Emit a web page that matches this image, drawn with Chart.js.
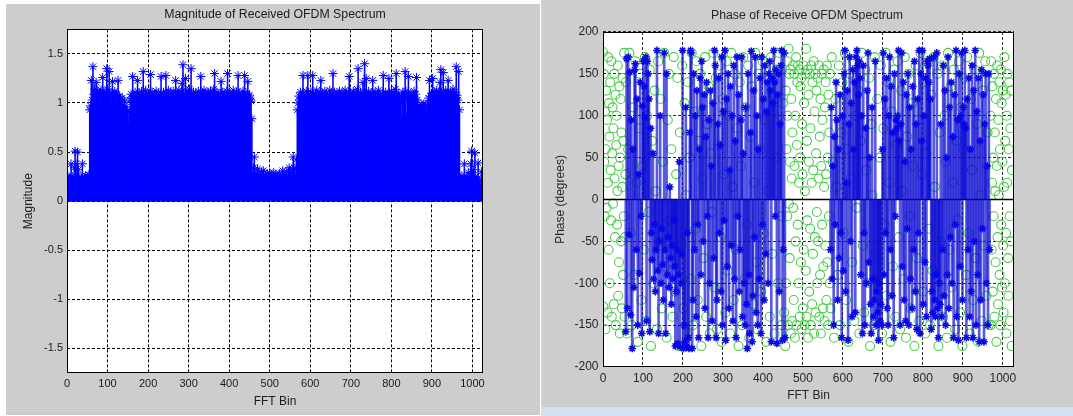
<!DOCTYPE html>
<html>
<head>
<meta charset="utf-8">
<title>Received OFDM Spectrum</title>
<script src="https://cdn.jsdelivr.net/npm/chart.js@4.4.1/dist/chart.umd.min.js"></script>
<style>
  html, body { margin: 0; padding: 0; width: 1073px; height: 416px; overflow: hidden; background: #ffffff; }
  .panel { position: absolute; background: #cdcdcd; }
  #leftPanel { left: 6px; top: 4px; width: 534px; height: 411px; }
  #rightPanel { left: 542px; top: 0; width: 531px; height: 407px; }
  #rightEdge { position: absolute; left: 541px; top: 0; width: 1px; height: 416px; background: #c6d8ea; }
  #rightFoot { position: absolute; left: 541px; top: 407px; width: 532px; height: 9px; background: #d4e2ef; }
  canvas { position: absolute; top: 0; }
  #magChart { left: 0; }
  #phaseChart { left: 541px; filter: blur(0.4px); }
</style>
</head>
<body>
<div id="leftPanel" class="panel"></div>
<div id="rightPanel" class="panel"></div>
<div id="rightEdge"></div>
<div id="rightFoot"></div>
<canvas id="magChart" width="550" height="416"></canvas>
<canvas id="phaseChart" width="532" height="416"></canvas>
<script>
// ---------------- axis ticks ----------------
const binTicks = [0, 100, 200, 300, 400, 500, 600, 700, 800, 900, 1000];
const magTicks = [-1.5, -1, -0.5, 0, 0.5, 1, 1.5];
const phaseTicks = [-200, -150, -100, -50, 0, 50, 100, 150, 200];

// ---------------- magnitude |X[k]| (every 2nd FFT bin) ----------------
const magStep = 2;
const magLowEdgeStart = 0;      // bins 0..56
const magLowEdge = [0.12,0.26,0.18,0.23,0.15,0.38,0.21,0.25,0.17,0.34,0.51,0.38,0.24,0.50,0.32,0.20,0.25,0.18,0.23,0.38,0.22,0.19,0.24,0.26,0.21,0.25,0.23,0.27,0.93];
const magLowerBandStart = 58;   // bins 58..454
const magLowerBand = [
  0.97,1.23,1.03,1.37,1.09,1.14,1.00,1.21,1.07,1.12,
  1.04,1.10,0.98,1.13,1.06,1.26,1.08,1.02,1.11,1.05,
  1.35,1.14,1.07,1.32,1.03,1.10,0.99,1.22,1.08,1.04,
  1.12,0.97,1.09,1.06,1.23,1.01,1.07,1.04,0.91,1.05,
  0.98,0.93,1.02,0.89,0.96,0.84,0.92,0.77,0.90,1.03,
  1.09,1.05,1.27,1.07,1.01,1.11,1.04,1.08,1.23,1.00,
  1.10,1.06,1.03,1.12,0.99,1.32,1.09,1.04,1.13,1.07,
  1.01,1.10,1.05,1.08,1.29,1.02,1.11,1.06,0.99,1.09,
  1.04,1.12,1.01,1.07,1.10,1.03,1.08,1.27,1.05,1.00,
  1.11,1.07,1.03,1.28,1.09,1.04,1.13,1.06,1.01,1.10,
  0.97,1.08,1.12,1.04,1.07,1.23,1.02,1.10,1.05,1.13,
  1.08,1.01,1.11,1.20,1.39,1.09,1.04,1.25,1.07,1.12,
  1.03,1.09,1.14,1.06,1.35,1.08,1.02,1.11,1.05,0.99,
  1.10,1.07,1.03,1.12,1.08,1.01,1.27,1.06,1.10,1.04,
  1.13,1.07,1.00,1.09,1.05,1.11,1.03,1.08,1.12,1.06,
  1.01,1.10,1.14,1.30,1.07,1.03,1.11,1.05,1.09,1.02,
  1.08,1.22,1.06,1.11,1.04,1.09,1.00,1.07,1.12,1.30,
  1.08,1.03,1.10,1.06,1.01,1.09,1.13,1.05,1.08,1.02,
  1.11,1.07,1.28,1.04,1.10,1.06,1.01,1.08,1.12,1.05,
  1.28,1.07,1.03,1.10,1.22,1.06,1.08,1.04,1.02
];
const magGuardStart = 456;      // bins 456..568
const magGuard = [
  0.84,0.26,0.34,0.45,0.23,0.29,0.20,0.33,0.25,0.18,
  0.27,0.22,0.30,0.19,0.31,0.24,0.17,0.26,0.21,0.28,
  0.18,0.24,0.29,0.22,0.26,0.20,0.25,0.29,0.23,0.27,
  0.21,0.26,0.19,0.25,0.28,0.22,0.26,0.20,0.31,0.24,
  0.18,0.27,0.23,0.30,0.20,0.25,0.34,0.22,0.29,0.19,
  0.32,0.45,0.26,0.34,0.23,0.42,0.93
];
const magUpperBandStart = 570;  // bins 570..968
const magUpperBand = [
  1.00,1.07,1.03,1.11,1.05,1.09,1.28,1.04,1.08,1.01,
  1.12,1.06,1.28,1.09,1.03,1.07,1.11,1.04,1.28,1.08,
  1.02,1.10,1.06,1.13,0.99,1.08,1.04,1.11,1.23,1.05,
  1.09,1.02,1.07,1.12,1.04,1.10,1.06,1.01,1.08,1.13,
  1.05,1.09,1.03,1.30,1.07,1.11,1.04,1.08,1.00,1.10,
  1.06,1.12,1.03,1.07,1.10,1.04,1.09,1.01,1.13,1.06,
  1.08,1.03,1.11,1.27,1.05,1.09,1.02,1.07,1.12,1.04,
  1.10,1.06,1.00,1.14,1.35,1.08,1.03,1.11,1.05,1.09,
  1.21,1.07,1.40,1.10,1.25,1.04,1.08,1.12,1.01,1.07,
  1.10,1.05,1.23,1.09,1.03,1.11,1.06,0.99,1.08,1.13,
  1.04,1.09,1.05,1.02,1.10,1.28,1.07,1.03,1.11,1.06,
  1.08,1.01,1.25,1.09,1.04,1.12,1.07,1.00,1.10,1.05,
  1.14,1.30,1.08,1.03,1.09,1.06,1.01,0.83,1.07,1.11,
  1.04,1.09,1.32,1.12,0.86,1.05,1.27,1.08,1.03,1.10,
  1.06,1.00,1.08,1.12,1.04,1.09,1.26,1.03,0.94,0.98,
  0.91,0.96,0.92,0.98,0.93,0.99,0.92,0.97,0.86,0.94,
  1.00,1.05,1.23,1.07,1.02,1.10,1.25,1.06,1.11,1.04,
  1.09,1.13,1.05,1.08,1.12,1.21,1.34,1.10,1.07,1.31,
  1.09,1.04,1.13,1.06,1.10,1.23,1.07,1.02,1.11,1.05,
  1.09,1.14,1.07,1.11,1.04,1.37,1.08,1.03,1.32,0.93
];
const magHighEdgeStart = 970;   // bins 970..1022
const magHighEdge = [
  0.24,0.19,0.26,0.22,0.17,0.38,0.23,0.20,0.25,0.18,
  0.29,0.22,0.26,0.38,0.51,0.23,0.32,0.20,0.49,0.25,
  0.18,0.23,0.39,0.16,0.21,0.12,0.30
];

// ---------------- phase of the data carriers, degrees (every 2nd bin) ----------------
const phaseStep = 2;
const phaseLowerBandStart = 57; // bins 57..455
const phaseLowerBand = [
  -158,168,-130,170,-42,152,-138,95,-178,60,
  -105,155,162,-60,120,-150,30,-88,140,-20,
  -160,112,165,135,98,170,-145,165,150,120,
  -158,85,-40,-72,55,-95,-30,-110,-60,178,
  -85,-160,-50,100,-100,-35,-78,-120,175,-60,
  -160,150,-90,-45,-105,15,-70,-125,-55,-95,
  -25,-80,-175,-110,-60,-172,-90,45,-176,-100,
  -65,178,-178,-150,-170,110,-176,-40,-165,-178,
  80,178,175,-178,-120,150,-60,100,-140,130,
  -30,-165,60,145,-90,165,110,-50,125,-130,
  75,140,-20,-165,95,-100,130,40,-145,115,
  -70,178,160,-165,-120,90,145,-40,65,-110,
  170,-150,105,-25,178,-168,120,-80,150,-130,
  35,135,-55,100,-145,160,-95,70,-165,170,
  -20,125,-110,-60,95,170,-140,55,-100,-150,
  110,-125,-178,150,-90,-160,80,177,-170,-115,
  130,-45,170,-135,100,-150,60,-95,145,-160,
  170,-30,120,-120,160,-65,105,140,-100,150,
  165,130,-170,145,115,178,140,-20,155,-172,
  125,150,-110,90,160,178,-168,-60,175,-165
];
const phaseUpperBandStart = 569; // bins 569..967
const phaseUpperBand = [
  -60,110,-95,40,-150,75,-30,140,95,-120,
  60,-70,125,-40,-165,100,-85,150,178,-110,
  20,130,-168,90,170,-50,115,-140,155,60,
  140,-135,170,178,160,125,165,145,-90,100,
  -160,160,-40,-150,85,-100,130,175,-75,50,
  -125,-160,110,-95,-140,-120,165,-150,-110,-135,
  -168,-100,-145,-125,-150,60,175,-90,120,-40,
  145,-130,-150,100,170,-60,135,-115,80,-165,
  150,-20,95,85,100,178,70,-150,90,175,
  -80,140,-120,45,-145,125,-35,150,-150,110,
  -95,60,-130,135,-60,165,-110,90,-155,120,
  -40,178,-160,150,70,178,-125,100,-75,145,
  -140,165,160,140,168,120,-155,-110,-135,170,
  -120,-140,-90,175,-130,-165,-100,-125,90,-140,
  -60,160,-115,130,-150,50,-90,170,-130,110,
  -45,140,-100,75,-165,125,-30,178,-140,95,
  -168,150,-80,100,175,-120,110,90,178,85,
  -165,120,-60,145,-140,60,-110,160,-165,130,
  -50,178,-150,105,-90,145,-170,70,-120,155,
  -35,125,-170,90,150,-100,40,-150,150,-60
];

// ---------------- phase of every bin (green circles), degrees ----------------
const greenLowEdgeStart = 0, greenLowEdgeStep = 1;      // bins 0..56
const greenLowEdge = [
  176,-128,150,45,-20,105,-155,60,130,-10,
  95,-135,20,170,-60,115,75,-100,140,35,
  -25,165,-140,55,110,-5,85,-125,150,25,
  -45,125,-150,65,100,-30,10,160,-115,40,
  -75,135,-160,50,120,-50,80,-130,15,145,
  -90,70,-20,175,-140,-45,30
];
const greenLowerBandStart = 57, greenLowerBandStep = 3; // bins 57..453
const greenLowerBand = [
  140,-160,60,175,-40,-150,110,-90,165,20,
  -170,85,150,-120,40,-60,170,-145,100,-15,
  155,-175,70,-100,130,10,-155,165,-50,120,
  -130,45,175,-80,-165,95,150,-25,60,-140,
  170,-110,30,145,-175,80,-55,160,-130,115,
  5,-160,140,50,-95,175,-150,105,-35,165,
  -120,70,150,-175,25,-70,170,-140,90,135,
  -160,55,-15,175,-105,145,-155,65,160,-45,
  -170,120,30,-135,165,-85,100,-160,175,15,
  -120,150,-60,85,-175,140,40,-150,170,-95,
  110,-30,160,-165,75,135,-125,20,175,-75,
  -155,150,60,-110,165,-40,95,-170,145,10,
  -140,170,-65,125,-160,50,155,-100,175,-20,
  -150,115,-135
];
const greenGuardStart = 456, greenGuardStep = 1;        // bins 456..568
const greenGuard = [
  -175,130,-100,60,165,-20,100,-150,180,-5,
  150,-70,45,155,-160,120,25,-145,80,160,
  -10,-120,150,40,-165,100,-50,170,-150,65,
  140,-30,160,-100,20,155,-140,50,135,-75,
  145,-155,90,30,-130,160,-60,115,-150,10,
  150,-85,180,-140,70,-25,155,-165,125,45,
  -110,150,-35,85,-150,160,20,-125,140,-65,
  35,165,-160,105,-45,150,-135,55,130,-15,
  -100,145,-50,25,160,-140,75,-90,120,-160,
  40,150,-30,95,-130,-80,155,15,-145,110,
  -55,140,30,-120,160,-75,50,-150,125,-20,
  80,-100,150
];
const greenUpperBandStart = 569, greenUpperBandStep = 3; // bins 569..965
const greenUpperBand = [
  -130,170,45,-165,120,15,-90,160,-150,80,
  140,-40,175,-120,60,-170,150,25,-75,165,
  -145,100,-10,130,-160,70,175,-55,-135,155,
  35,-100,145,-175,90,5,-150,170,-65,120,
  -125,50,160,-160,85,-30,175,-115,140,20,
  -170,105,-80,155,-140,65,165,-45,-155,130,
  10,-95,170,-165,75,150,-20,-130,115,40,
  -175,160,-70,95,-145,175,30,-110,140,-160,
  55,165,-35,-150,125,-85,170,15,-125,150,
  -175,80,-50,160,-140,100,45,-165,175,-60,
  135,-105,20,155,-155,70,-25,165,-135,110,
  -175,60,145,-90,170,-40,-160,120,35,-120,
  155,-70,90,-170,175,5,-145,130,-55,165,
  -115,80,-150
];
const greenHighEdgeStart = 969, greenHighEdgeStep = 1;  // bins 969..1023
const greenHighEdge = [
  100,-150,165,-60,20,135,-110,50,-20,150,
  -140,80,10,-75,120,-170,40,160,-45,-125,
  95,5,140,-90,60,-150,155,-30,115,-105,
  45,130,-55,-135,15,170,-100,70,125,-40,
  -160,100,20,150,-70,-115,60,140,-20,-145,
  85,-50,130,-175,35
];

// ---------------- helpers ----------------
const FONT = '"Liberation Sans", Arial, Helvetica, sans-serif';

function toPoints(start, step, values) {
  return values.map((v, i) => ({ x: start + i * step, y: v }));
}

const magPoints = [].concat(
  toPoints(magLowEdgeStart, magStep, magLowEdge),
  toPoints(magLowerBandStart, magStep, magLowerBand),
  toPoints(magGuardStart, magStep, magGuard),
  toPoints(magUpperBandStart, magStep, magUpperBand),
  toPoints(magHighEdgeStart, magStep, magHighEdge)
);
const phasePoints = [].concat(
  toPoints(phaseLowerBandStart, phaseStep, phaseLowerBand),
  toPoints(phaseUpperBandStart, phaseStep, phaseUpperBand)
);
const greenPoints = [].concat(
  toPoints(greenLowEdgeStart, greenLowEdgeStep, greenLowEdge),
  toPoints(greenLowerBandStart, greenLowerBandStep, greenLowerBand),
  toPoints(greenGuardStart, greenGuardStep, greenGuard),
  toPoints(greenUpperBandStart, greenUpperBandStep, greenUpperBand),
  toPoints(greenHighEdgeStart, greenHighEdgeStep, greenHighEdge)
);

// white axes background and the closed axes box
const axesBox = {
  id: 'axesBox',
  beforeDraw(chart) {
    const { ctx, chartArea: a } = chart;
    ctx.save();
    ctx.fillStyle = '#ffffff';
    ctx.fillRect(a.left, a.top, a.right - a.left, a.bottom - a.top);
    ctx.restore();
  },
  afterDraw(chart) {
    const { ctx, chartArea: a } = chart;
    ctx.save();
    ctx.strokeStyle = '#000000';
    ctx.lineWidth = 1;
    ctx.strokeRect(Math.round(a.left) + 0.5, Math.round(a.top) + 0.5,
                   Math.round(a.right - a.left) - 1, Math.round(a.bottom - a.top) - 1);
    ctx.restore();
  }
};

function axesOptions(o) {
  return {
    responsive: false,
    animation: false,
    events: [],
    layout: { padding: 0 },
    plugins: {
      legend: { display: false },
      tooltip: { enabled: false },
      title: {
        display: true, text: o.title, color: o.textColor,
        font: { family: FONT, size: 12.3, weight: 'normal', lineHeight: 1.2 },
        padding: { top: o.titlePad, bottom: o.titlePad2 }
      }
    },
    scales: {
      x: {
        type: 'linear', position: 'bottom', min: 0, max: o.xMax,
        offset: false,
        afterBuildTicks: s => { s.ticks = binTicks.map(v => ({ value: v })); },
        afterFit: s => { s.height = o.xAxisHeight; },
        grid: { display: true, color: o.gridColor, lineWidth: 1, drawTicks: false, offset: false },
        border: { display: false, dash: [3, 2] },
        ticks: { color: o.textColor, font: { family: FONT, size: o.tickSize }, padding: 4,
                 maxRotation: 0, autoSkip: false, callback: v => String(v) },
        title: { display: true, text: 'FFT Bin', color: o.textColor,
                 font: { family: FONT, size: 12, lineHeight: 1.2 },
                 padding: { top: 0, bottom: o.xTitlePad } }
      },
      y: {
        type: 'linear', position: 'left', min: o.yMin, max: o.yMax,
        afterBuildTicks: s => { s.ticks = o.yTicks.map(v => ({ value: v })); },
        afterFit: s => { s.width = o.yAxisWidth; },
        grid: { display: true, color: o.gridColor, lineWidth: 1, drawTicks: false },
        border: { display: false, dash: [3, 2] },
        ticks: { color: o.textColor, font: { family: FONT, size: o.tickSize }, padding: o.yTickPad,
                 autoSkip: false, callback: v => String(v) },
        title: { display: true, text: o.yTitle, color: o.textColor,
                 font: { family: FONT, size: 12, lineHeight: 1.2 },
                 padding: { top: o.yTitlePad, bottom: 0 } }
      },
      yRight: {
        type: 'linear', position: 'right', min: o.yMin, max: o.yMax, display: true,
        afterFit: s => { s.width = o.rightWidth; },
        grid: { display: false, drawTicks: false },
        border: { display: false },
        ticks: { display: false }
      }
    }
  };
}

// ---------------- magnitude stem plot ----------------
new Chart(document.getElementById('magChart'), {
  type: 'bar',
  data: {
    datasets: [
      { type: 'line', data: [{ x: 0, y: 0 }, { x: 1026, y: 0 }], borderColor: '#000000',
        borderWidth: 1, pointRadius: 0, order: 4 },
      { type: 'bar', data: magPoints, backgroundColor: '#0000ff', borderWidth: 0,
        barThickness: 0.9, grouped: false, order: 3 },
      { type: 'scatter', data: magPoints, pointStyle: 'star', pointRadius: 4.5,
        borderColor: '#0000ff', backgroundColor: '#0000ff', pointBorderWidth: 1, order: 1 }
    ]
  },
  options: axesOptions({
    title: 'Magnitude of Received OFDM Spectrum', textColor: '#1a1a1a', gridColor: '#000000',
    titlePad: 7, titlePad2: 7.6, xMax: 1026, xAxisHeight: 43, xTitlePad: 7,
    yMin: -1.75, yMax: 1.75, yTicks: magTicks, yAxisWidth: 67, yTickPad: 4,
    yTitle: 'Magnitude', yTitlePad: 21, rightWidth: 67, tickSize: 11
  }),
  plugins: [axesBox]
});

// ---------------- phase stem plot ----------------
new Chart(document.getElementById('phaseChart'), {
  type: 'bar',
  data: {
    datasets: [
      { type: 'scatter', data: greenPoints, pointStyle: 'circle', pointRadius: 4.5,
        borderColor: 'rgb(72,205,72)', backgroundColor: 'rgba(0,0,0,0)', pointBorderWidth: 1.1, order: 6 },
      { type: 'line', data: [{ x: 0, y: 0 }, { x: 1028, y: 0 }], borderColor: '#000000',
        borderWidth: 1.3, pointRadius: 0, order: 5 },
      { type: 'bar', data: phasePoints, backgroundColor: 'rgba(12,12,210,0.68)', borderWidth: 0,
        barThickness: 2, grouped: false, order: 3 },
      { type: 'scatter', data: phasePoints, pointStyle: 'star', pointRadius: 3.8,
        borderColor: '#0606e6', backgroundColor: '#0606e6', pointBorderWidth: 1.5, order: 1 }
    ]
  },
  options: axesOptions({
    title: 'Phase of Receive OFDM Spectrum', textColor: '#262626', gridColor: '#2a2a2a',
    titlePad: 8.6, titlePad2: 8.6, xMax: 1028, xAxisHeight: 49, xTitlePad: 12.8,
    yMin: -200, yMax: 200, yTicks: phaseTicks, yAxisWidth: 62, yTickPad: 4.5,
    yTitle: 'Phase (degrees)', yTitlePad: 12.8, rightWidth: 59, tickSize: 12
  }),
  plugins: [axesBox]
});
</script>
</body>
</html>
